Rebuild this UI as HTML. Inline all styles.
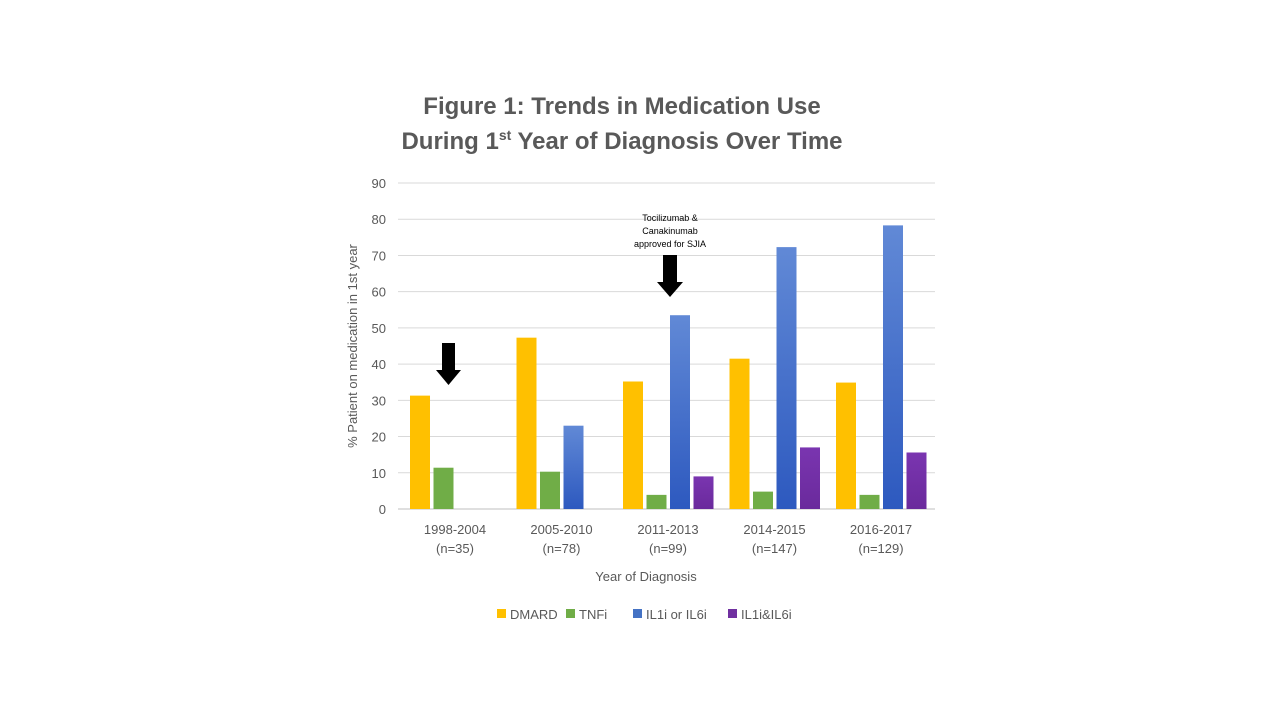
<!DOCTYPE html>
<html><head><meta charset="utf-8"><style>
body{margin:0;background:#fff;width:1280px;height:720px;overflow:hidden;font-family:"Liberation Sans",sans-serif}
</style></head><body>
<svg id="c" width="1280" height="720" xmlns="http://www.w3.org/2000/svg">
<defs><linearGradient id="gb" x1="0" y1="0" x2="0" y2="1"><stop offset="0" stop-color="#6189d6"/><stop offset="1" stop-color="#2d59bf"/></linearGradient>
<linearGradient id="gp" x1="0" y1="0" x2="0" y2="1"><stop offset="0" stop-color="#7a35b0"/><stop offset="1" stop-color="#6a2a9c"/></linearGradient></defs>
<text x="622" y="114" text-anchor="middle" font-size="24" font-weight="bold" fill="#595959">Figure 1: Trends in Medication Use</text>
<text x="622" y="149" text-anchor="middle" font-size="24" font-weight="bold" fill="#595959">During 1<tspan font-size="14" dy="-9">st</tspan><tspan dy="9"> Year of Diagnosis Over Time</tspan></text>
<g id="grid"></g><g id="bars"></g><g id="labels"></g>
<text transform="translate(357,346) rotate(-90)" text-anchor="middle" font-size="13" fill="#595959">% Patient on medication in 1st year</text>
<text x="646" y="581" text-anchor="middle" font-size="13" fill="#595959">Year of Diagnosis</text>
<g><rect x="442" y="343" width="13" height="27" fill="#000"/><polygon points="436,370 461,370 448.5,385" fill="#000"/></g>
<g><rect x="663" y="255" width="14" height="27" fill="#000"/><polygon points="657,282 683,282 670,297" fill="#000"/></g>
<g font-size="9" fill="#000" text-anchor="middle">
<text x="670" y="221">Tocilizumab &amp;</text><text x="670" y="234">Canakinumab</text><text x="670" y="247">approved for SJIA</text></g>
<g id="legend" font-size="13" fill="#595959"></g>
</svg>
<script>
const categories=["1998-2004","2005-2010","2011-2013","2014-2015","2016-2017"];
const ns=["(n=35)","(n=78)","(n=99)","(n=147)","(n=129)"];
const dmard=[31.3,47.3,35.2,41.5,34.9];
const tnfi=[11.4,10.3,3.9,4.8,3.9];
const il1or6=[0,23,53.5,72.3,78.3];
const il1and6=[0,0,9,17,15.6];
const seriesNames=["DMARD","TNFi","IL1i or IL6i","IL1i&IL6i"];
const yTicks=[0,10,20,30,40,50,60,70,80,90];
const S="http://www.w3.org/2000/svg";
const X0=398,X1=935,Y0=509,Y90=183;
const y=v=>Y0-(v/90)*(Y0-Y90);
const gw=106.5;
const colors=["#ffc000","#70ad47","url(#gb)","url(#gp)"];
const legendColors=["#ffc000","#70ad47","#4472c4","#7030a0"];
const series=[dmard,tnfi,il1or6,il1and6];
function mk(t,a,p){const e=document.createElementNS(S,t);for(const k in a)e.setAttribute(k,a[k]);p.appendChild(e);return e;}
const grid=document.getElementById('grid');
yTicks.forEach(t=>{
 const l=mk('line',{x1:X0,x2:X1,y1:y(t),y2:y(t),stroke:t===0?'#bfbfbf':'#d9d9d9','stroke-width':1},grid);
 
 
 const tx=mk('text',{x:386,y:y(t)+5,'text-anchor':'end','font-size':13,fill:'#595959'},grid);
 tx.textContent=t;
 
 
});
const bars=document.getElementById('bars'),lab=document.getElementById('labels');
categories.forEach((c,i)=>{
 const gx=410+gw*i;
 series.forEach((s,j)=>{
  const v=s[i]; if(v<=0)return;
  const r=mk('rect',{x:gx+j*23.5,y:y(v),width:20,height:Y0-y(v),fill:colors[j]},bars);
  
  
 });
 const cx=gx+45;
 const t1=mk('text',{x:cx,y:534,'text-anchor':'middle','font-size':13,fill:'#595959'},lab);t1.textContent=c;
 
 
 const t2=mk('text',{x:cx,y:553,'text-anchor':'middle','font-size':13,fill:'#595959'},lab);t2.textContent=ns[i];
 
 
});
const leg=document.getElementById('legend');
const lx=[497,566,633,728];
seriesNames.forEach((n,j)=>{
 const g=mk('g',{},leg);
 
 
 mk('rect',{x:lx[j],y:609,width:9,height:9,fill:legendColors[j]},g);
 const t=mk('text',{x:lx[j]+13,y:619},g);t.textContent=n;
});
</script>
</body></html>
